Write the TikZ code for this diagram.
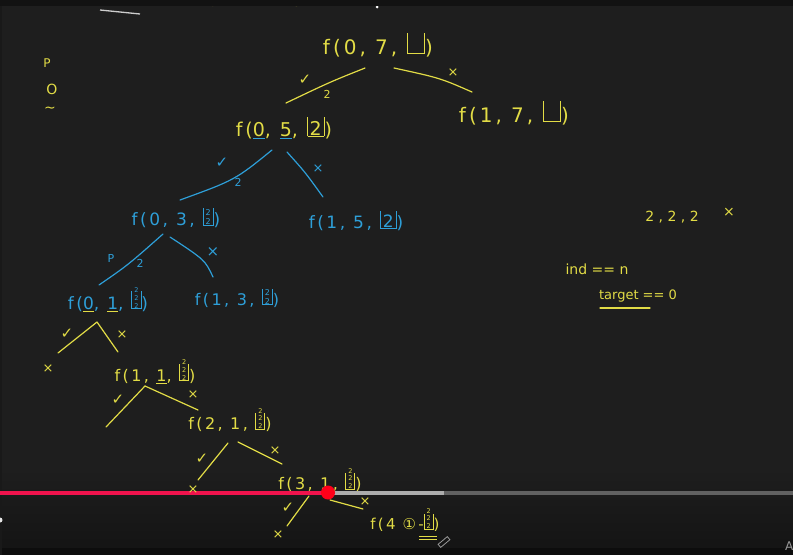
\documentclass[tikz,border=0pt]{standalone}
\usepackage{fontspec}
\setmainfont{DejaVu Sans}
\newfontfamily\hand[LetterSpace=15]{DejaVu Sans}
\newfontfamily\markf{DejaVu Sans}
\definecolor{bg}{HTML}{1E1E1E}
\definecolor{hy}{HTML}{E2DC46}
\definecolor{hb}{HTML}{2E9FD8}
\definecolor{barred}{HTML}{F0134D}
\newcommand\ob[1]{\vrule width .9pt height 1.05em depth 0pt\vbox{\hbox{\kern2pt#1\kern2pt}\hrule height .9pt}\vrule width .9pt height 1.05em depth 0pt}
\newcommand\stkb{{\fontsize{8}{8}\selectfont\shortstack{2\\2}}}
\newcommand\stkc{{\fontsize{6.5}{6.5}\selectfont\shortstack{2\\2\\2}}}
\newcommand\cul[2]{\setbox0\hbox{#2}\rlap{\color{#1}\rule[-3pt]{\wd0}{1pt}}\box0}
\tikzset{
  fn/.style={inner sep=0pt, font=\fontsize{#1}{#1}\hand},
  fn/.default=16,
  mk/.style={inner sep=0pt, font=\fontsize{#1}{#1}\markf},
  mk/.default=13,
  ck/.style={inner sep=0pt, font=\fontsize{15}{15}\markf},
  br/.style={line width=1.2pt, line cap=round},
}
\begin{document}
\begin{tikzpicture}[x=1pt,y=-1pt]
\useasboundingbox (0,0) rectangle (793,555);
% background
\fill[bg] (0,0) rectangle (793,555);
\shade[top color=bg, bottom color=black!92!white] (0,468) rectangle (793,548);
\fill[black!95!white] (0,548) rectangle (793,555);
\fill[black!90!white] (0,0) rectangle (1.5,555);
% cut-off marks at top
\node[mk=9, text=hy] (t0) at (213,3) {0};
\node[mk=9, text=hy] (t1) at (241,3) {1};
\node[mk=9, text=hy] (t2) at (269,3) {2};
\node[mk=9, text=hy] (t3) at (297,3) {3};
\coordinate (wa) at (100,10);
\coordinate (wb) at (140,14);
\draw[white!80!black, line width=1.3pt] (wa) -- (wb);
\fill[white] (377,7) circle (1.5);
\fill[black!93!white] (0,0) rectangle (793,6);

% left notes
\node[mk=12, text=hy] (lp) at (47,63) {P};
\node[mk=14, text=hy] (lo) at (52,89) {O};
\node[mk=14, text=hy] (lt) at (50,110) {\char"223C};

% tree nodes
\node[fn=20, text=hy] (n07) at (378,45) {f(0, 7, \ob{\phantom{2}})};
\node[fn=20, text=hy] (n17) at (514,113) {f(1, 7, \ob{\phantom{2}})};
\node[fn=19, text=hy] (n05) at (284,128) {f(\cul{hb}{0}, \cul{hb}{5}, \ob{2})};
\node[fn=17, text=hb] (n03) at (176,218) {f(0, 3, \ob{\stkb})};
\node[fn=17, text=hb] (n15) at (356,221) {f(1, 5, \ob{2})};
\node[fn=17, text=hb] (n01) at (108,300) {f(\cul{hy}{0}, \cul{hy}{1}, \ob{\stkc})};
\node[fn=16, text=hb] (n13) at (237,298) {f(1, 3, \ob{\stkb})};
\node[fn=16, text=hy] (n11) at (155,372) {f(1, \cul{hy}{1}, \ob{\stkc})};
\node[fn=16, text=hy] (n21) at (230,420) {f(2, 1, \ob{\stkc})};
\node[fn=16, text=hy] (n31) at (320,480) {f(3, 1, \ob{\stkc})};
\node[fn=15, text=hy] (n41) at (405,520) {f(4 \char"2460-\ob{\stkc})};
\coordinate (v1) at (419,536); \coordinate (v2) at (437,536);
\coordinate (v3) at (419,539.5); \coordinate (v4) at (437,539.5);
\draw[hy, line width=0.9pt] (v1) -- (v2);
\draw[hy, line width=0.9pt] (v3) -- (v4);

% branch end points
\coordinate (a1) at (365,68);  \coordinate (a2) at (286,103);
\coordinate (b1) at (394,68);  \coordinate (b2) at (472,92);
\coordinate (c1) at (272,150); \coordinate (c2) at (180,200);
\coordinate (d1) at (287,152); \coordinate (d2) at (323,197);
\coordinate (e1) at (163,234); \coordinate (e2) at (99,285);
\coordinate (f1) at (170,237); \coordinate (f2) at (213,277);
\coordinate (g0) at (97,322);  \coordinate (g1) at (58,353); \coordinate (g2) at (118,352);
\coordinate (h0) at (145,386); \coordinate (h1) at (106,427); \coordinate (h2) at (198,410);
\coordinate (i0) at (228,443); \coordinate (i1) at (198,480);
\coordinate (i3) at (238,442); \coordinate (i2) at (282,464);
\coordinate (j0) at (309,496); \coordinate (j1) at (287,526);
\coordinate (j3) at (330,500); \coordinate (j2) at (363,509);

\draw[br, hy] (a1) .. controls (330,82) .. (a2);
\draw[br, hy] (b1) .. controls (440,78) .. (b2);
\draw[br, hb] (c1) .. controls (235,180) .. (c2);
\draw[br, hb] (d1) .. controls (305,172) .. (d2);
\draw[br, hb] (e1) .. controls (128,265) .. (e2);
\draw[br, hb] (f1) .. controls (205,260) .. (f2);
\draw[br, hy] (g0) -- (g1);
\draw[br, hy] (g0) -- (g2);
\draw[br, hy] (h0) -- (h1);
\draw[br, hy] (h0) -- (h2);
\draw[br, hy] (i0) -- (i1);
\draw[br, hy] (i3) -- (i2);
\draw[br, hy] (j0) -- (j1);
\draw[br, hy] (j3) -- (j2);

% marks on branches
\node[ck, text=hy] (m1) at (305,80) {\char"2713};
\node[mk=11, text=hy] (m2) at (327,94) {2};
\node[mk, text=hy] (m3) at (453,73) {\char"00D7};
\node[ck, text=hb] (m4) at (222,163) {\char"2713};
\node[mk=11, text=hb] (m5) at (238,182) {2};
\node[mk, text=hb] (m6) at (318,169) {\char"00D7};
\node[mk=11, text=hb] (m7) at (111,258) {P};
\node[mk=11, text=hb] (m8) at (140,263) {2};
\node[mk=15, text=hb] (m9) at (213,252) {\char"00D7};
\node[ck, text=hy] (m10) at (67,334) {\char"2713};
\node[mk, text=hy] (m11) at (122,335) {\char"00D7};
\node[mk, text=hy] (m12) at (48,369) {\char"00D7};
\node[ck, text=hy] (m13) at (118,400) {\char"2713};
\node[mk, text=hy] (m14) at (193,395) {\char"00D7};
\node[ck, text=hy] (m15) at (202,459) {\char"2713};
\node[mk, text=hy] (m16) at (275,451) {\char"00D7};
\node[ck, text=hy] (m18) at (288,508) {\char"2713};
\node[mk, text=hy] (m19) at (278,535) {\char"00D7};
\node[mk, text=hy] (m20) at (365,502) {\char"00D7};

% right notes
\node[mk=14, text=hy] (r1) at (672,217) {2 , 2 , 2};
\node[mk=14, text=hy] (r2) at (729,212) {\char"00D7};
\node[mk=14, text=hy] (r3) at (597,269) {ind == n};
\node[mk=13, text=hy] (r4) at (638,296) {target == 0};
\coordinate (u1) at (600,308); \coordinate (u2) at (650,308);
\draw[br, hy] (u1) -- (u2);

% video progress bar
\coordinate (p0) at (0,492.5); \coordinate (p1) at (328,492.5);
\coordinate (p2) at (444,492.5); \coordinate (p3) at (793,492.5);
\draw[line width=4pt, black!62!white] (p2) -- (p3);
\draw[line width=4pt, white!68!black] (p1) -- (p2);
\draw[line width=4pt, barred] (p0) -- (p1);
\node[mk, text=hy] (m17) at (193,490) {\char"00D7};
\fill[red!90!magenta] (p1) circle (7);
% pen cursor
\draw[white!60!black, line width=0.8pt, rotate around={40:(444,542)}] (438,540) rectangle (450,544);
% misc overlay fragments
\fill[white!90!black] (0,520) circle (2.5);
\node[mk=12, text=white!60!black, anchor=west] (ca) at (785,546) {A};
\end{tikzpicture}
\end{document}
